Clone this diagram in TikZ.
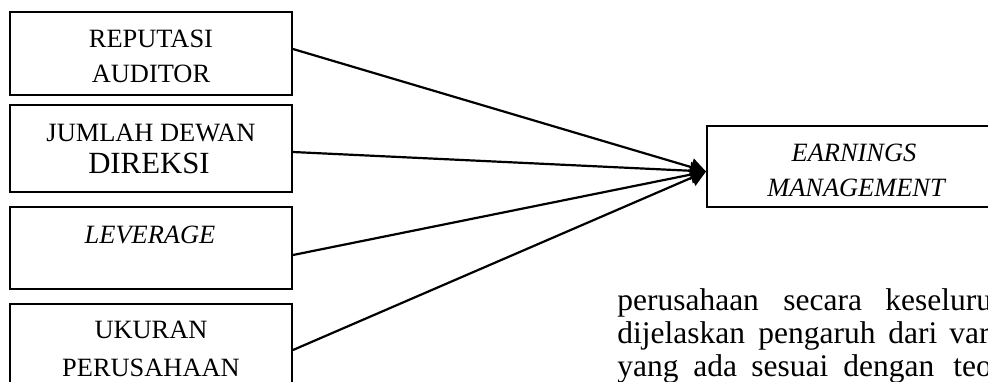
\documentclass[tikz,border=0pt]{standalone}
\usepackage{fontspec}
\setmainfont{Liberation Serif}
\usetikzlibrary{arrows.meta,calc}
\def\u{0.4545pt}
\tikzset{
  box/.style={draw, line width=0.9pt, rectangle, inner sep=0pt},
  lbl/.style={inner sep=0pt, anchor=base, font=\fontsize{12}{14}\selectfont},
  body/.style={inner sep=0pt, anchor=base west, font=\fontsize{14.3}{16}\selectfont},
  conn/.style={line width=1pt, -{Triangle[length=7pt,width=8pt]}}
}
\begin{document}
\begin{tikzpicture}[x=0.4545pt,y=-0.4545pt]
\useasboundingbox (0,0) rectangle (988,381);
\clip (0,0) rectangle (988,381);
% left boxes
\node[box, minimum width=282*\u, minimum height=83*\u] (b1) at (151,53.5) {};
\node[box, minimum width=282*\u, minimum height=87*\u] (b2) at (151,148.5) {};
\node[box, minimum width=282*\u, minimum height=82*\u] (b3) at (151,248) {};
\node[box, minimum width=282*\u, minimum height=85*\u] (b4) at (151,346.5) {};
% right box
\node[box, minimum width=296*\u, minimum height=81*\u] (em) at (855,166.5) {};
% labels
\node[lbl] (t1a) at (151,47) {REPUTASI};
\node[lbl] (t1b) at (151,82.5) {AUDITOR};
\node[lbl] (t2a) at (151,141.5) {JUMLAH DEWAN};
\node[lbl, font=\fontsize{14}{16}\selectfont] (t2b) at (149,173.3) {DIREKSI};
\node[lbl] (t3a) at (150,243.3) {\itshape LEVERAGE};
\node[lbl] (t4a) at (151,338.3) {UKURAN};
\node[lbl] (t4b) at (151,376.7) {PERUSAHAAN};
\node[lbl] (e1) at (854,161.7) {\itshape EARNINGS};
\node[lbl] (e2) at (856,196.7) {\itshape MANAGEMENT};
% connectors
\coordinate (tip) at ($(em.west)+(0,5)$);
\draw[conn] ($(b1.east)+(0,-4.5)$) -- (tip);
\draw[conn] ($(b2.east)+(0,3.5)$) -- (tip);
\draw[conn] ($(b3.east)+(0,7)$) -- (tip);
\draw[conn] ($(b4.east)+(0,3.5)$) -- (tip);
% body text
\node[body] (w11) at (617,310) {perusahaan};
\node[body] (w12) at (783,310) {secara};
\node[body] (w13) at (885,310) {keseluruhan};
\node[body] (w21) at (617,343) {dijelaskan};
\node[body] (w22) at (758,343) {pengaruh};
\node[body] (w23) at (888,343) {dari};
\node[body] (w24) at (949,343) {variabel};
\node[body] (w31) at (617,376) {yang};
\node[body] (w32) at (693,376) {ada};
\node[body] (w33) at (751,376) {sesuai};
\node[body] (w34) at (843,376) {dengan};
\node[body] (w35) at (953,376) {teori};
\end{tikzpicture}
\end{document}
